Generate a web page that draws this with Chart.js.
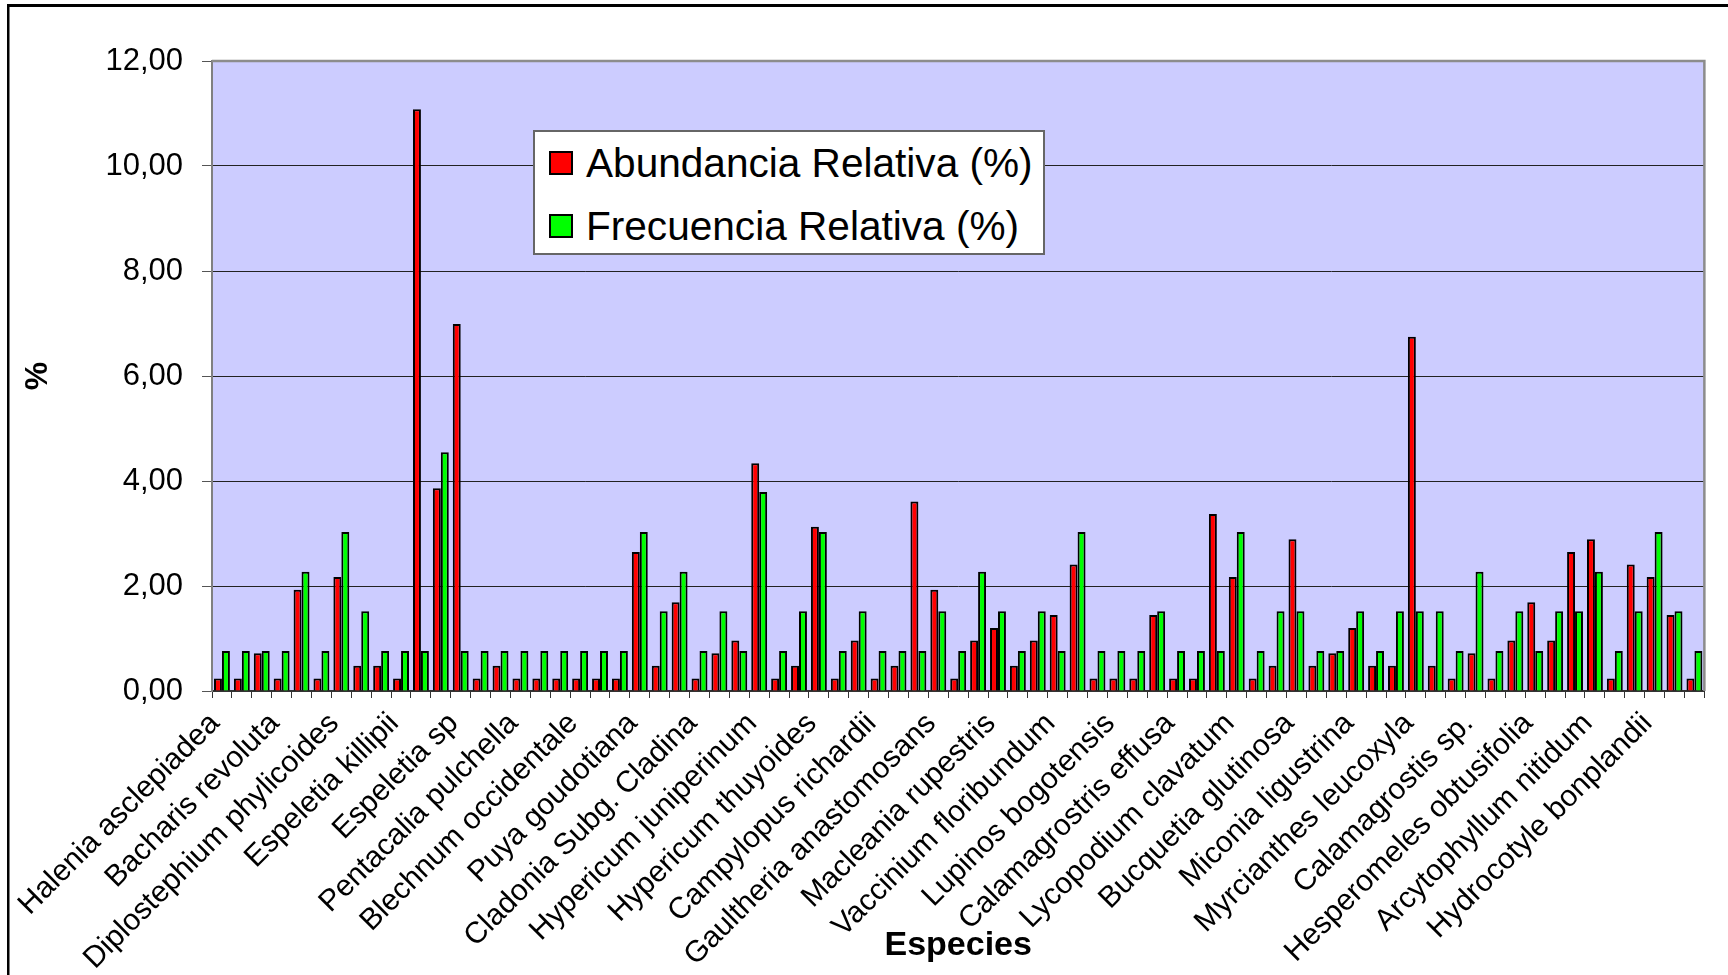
<!DOCTYPE html>
<html lang="es">
<head>
<meta charset="utf-8">
<title>Abundancia y frecuencia relativa por especie</title>
<script src="https://cdn.jsdelivr.net/npm/chart.js@4.4.1/dist/chart.umd.min.js"></script>
<style>
  html, body { margin: 0; padding: 0; background: #fff; }
  #wrap { position: relative; width: 1728px; height: 975px; overflow: hidden; }
  #grafico { position: absolute; left: 0; top: 0; }
  #leyenda {
    position: absolute; left: 533px; top: 130px; width: 508px; height: 121px;
    background: #fff; border: 2px solid #666;
    font-family: 'Liberation Sans', Arial, sans-serif; font-size: 40.6px; color: #000;
  }
  .ley-item { position: absolute; left: 14px; height: 48px; display: flex; align-items: center; white-space: nowrap; }
  .ley-swatch { width: 20px; height: 20px; border: 2px solid #000; margin-right: 13px; }
</style>
</head>
<body>
<div id="wrap">
  <canvas id="grafico" width="1728" height="975"></canvas>
  <div id="leyenda"></div>
</div>
<script>
// ── Datos ─────────────────────────────────────────────────────
// 75 especies; el eje sólo rotula una de cada tres
const especiesRotuladas = [
  'Halenia asclepiadea', 'Bacharis revoluta', 'Diplostephium phylicoides',
  'Espeletia killipii', 'Espeletia sp', 'Pentacalia pulchella',
  'Blechnum occidentale', 'Puya goudotiana', 'Cladonia Subg. Cladina',
  'Hypericum juniperinum', 'Hypericum thuyoides', 'Campylopus richardii',
  'Gaultheria anastomosans', 'Macleania rupestris', 'Vaccinium floribundum',
  'Lupinos bogotensis', 'Calamagrostris effusa', 'Lycopodium clavatum',
  'Bucquetia glutinosa', 'Miconia ligustrina', 'Myrcianthes leucoxyla',
  'Calamagrostis sp.', 'Hesperomeles obtusifolia', 'Arcytophyllum nitidum',
  'Hydrocotyle bonplandii'
];

const abundancia = [
  0.24, 0.24, 0.72, 0.24, 1.93, 0.24, 2.17, 0.48, 0.48, 0.24,
  11.08, 3.86, 6.99, 0.24, 0.48, 0.24, 0.24, 0.24, 0.24, 0.24,
  0.24, 2.65, 0.48, 1.69, 0.24, 0.72, 0.96, 4.34, 0.24, 0.48,
  3.13, 0.24, 0.96, 0.24, 0.48, 3.61, 1.93, 0.24, 0.96, 1.20,
  0.48, 0.96, 1.45, 2.41, 0.24, 0.24, 0.24, 1.45, 0.24, 0.24,
  3.37, 2.17, 0.24, 0.48, 2.89, 0.48, 0.72, 1.20, 0.48, 0.48,
  6.75, 0.48, 0.24, 0.72, 0.24, 0.96, 1.69, 0.96, 2.65, 2.89,
  0.24, 2.41, 2.17, 1.45, 0.24
];

const frecuencia = [
  0.76, 0.76, 0.76, 0.76, 2.27, 0.76, 3.03, 1.52, 0.76, 0.76,
  0.76, 4.55, 0.76, 0.76, 0.76, 0.76, 0.76, 0.76, 0.76, 0.76,
  0.76, 3.03, 1.52, 2.27, 0.76, 1.52, 0.76, 3.79, 0.76, 1.52,
  3.03, 0.76, 1.52, 0.76, 0.76, 0.76, 1.52, 0.76, 2.27, 1.52,
  0.76, 1.52, 0.76, 3.03, 0.76, 0.76, 0.76, 1.52, 0.76, 0.76,
  0.76, 3.03, 0.76, 1.52, 1.52, 0.76, 0.76, 1.52, 0.76, 1.52,
  1.52, 1.52, 0.76, 2.27, 0.76, 1.52, 0.76, 1.52, 1.52, 2.27,
  0.76, 1.52, 3.03, 1.52, 0.76
];

const series = [
  { label: 'Abundancia Relativa (%)', data: abundancia, color: '#ff0000' },
  { label: 'Frecuencia Relativa (%)', data: frecuencia, color: '#00ff00' },
];

const FUENTE = "'Liberation Sans', Arial, sans-serif";

const etiquetas = abundancia.map((_, i) => i % 3 === 0 ? especiesRotuladas[i / 3] : '');

// ── Fondo del área de trazado y marcos ────────────────────────
const marcoGrafico = {
  id: 'marcoGrafico',
  beforeDraw(chart) {
    const { ctx, chartArea: a } = chart;
    ctx.save();
    ctx.fillStyle = '#ffffff';
    ctx.fillRect(0, 0, chart.width, chart.height);
    ctx.fillStyle = '#ccccff';
    ctx.fillRect(a.left, a.top, a.right - a.left, a.bottom - a.top);
    ctx.restore();
  },
  afterDraw(chart) {
    const { ctx, chartArea: a } = chart;
    ctx.save();
    ctx.strokeStyle = '#8c8c8c';
    ctx.lineWidth = 2.5;
    ctx.beginPath();
    ctx.moveTo(a.left, a.top);
    ctx.lineTo(a.right, a.top);
    ctx.lineTo(a.right, a.bottom);
    ctx.stroke();
    // marco negro exterior
    ctx.fillStyle = '#000';
    ctx.fillRect(7, 4, chart.width - 7, 3);
    ctx.fillRect(7, 4, 2.5, chart.height - 4);
    ctx.restore();
  }
};

new Chart(document.getElementById('grafico'), {
  type: 'bar',
  data: {
    labels: etiquetas,
    datasets: series.map(s => ({
      label: s.label, data: s.data,
      backgroundColor: s.color, borderColor: '#000', borderWidth: 2,
      borderSkipped: 'bottom',
      categoryPercentage: 0.8, barPercentage: 1.0,
    })),
  },
  options: {
    responsive: false, animation: false,
    layout: { padding: { top: 61, right: 18, bottom: 0, left: 0 } },
    plugins: { legend: { display: false }, tooltip: { enabled: false } },
    scales: {
      x: {
        offset: true,
        afterFit: s => { s.height = 284; },
        border: { color: '#333', width: 2 },
        grid: { drawOnChartArea: false, offset: true, tickLength: 7, tickColor: '#333' },
        ticks: {
          autoSkip: false, minRotation: 45, maxRotation: 45, padding: 8, labelOffset: -7,
          color: '#000', font: { family: FUENTE, size: 30 },
        },
        title: {
          display: true, text: 'Especies', color: '#000',
          font: { family: FUENTE, size: 34, weight: 'bold' },
          padding: { top: 0, bottom: 9 },
        },
      },
      y: {
        min: 0, max: 12,
        afterFit: s => { s.width = 212; },
        border: { color: '#808080', width: 2 },
        grid: {
          color: c => (c.tick.value === 0 || c.tick.value === 12) ? 'rgba(0,0,0,0)' : '#222',
          lineWidth: 1, tickLength: 10, tickColor: '#555',
        },
        ticks: {
          stepSize: 2, padding: 19, color: '#000',
          font: { family: FUENTE, size: 31 },
          callback: v => v.toFixed(2).replace('.', ','),
        },
        title: {
          display: true, text: '%', color: '#000',
          font: { family: FUENTE, size: 32, weight: 'bold' },
          padding: { top: 19, bottom: 0 },
        },
      },
    },
  },
  plugins: [marcoGrafico],
});

// ── Leyenda ───────────────────────────────────────────────────
document.getElementById('leyenda').innerHTML = series.map((s, i) =>
  `<div class="ley-item" style="top:${7 + i * 63}px">
     <span class="ley-swatch" style="background:${s.color}"></span>${s.label}
   </div>`).join('');
</script>
</body>
</html>
